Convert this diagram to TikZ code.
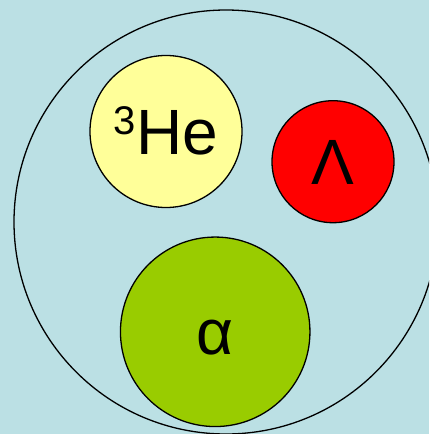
\documentclass[tikz,border=0pt]{standalone}
\usepackage{fontspec}
\setmainfont{Liberation Sans}
\definecolor{hyperSky}{HTML}{BBE0E4}
\definecolor{hyperHe}{HTML}{FFFF99}
\definecolor{hyperLam}{HTML}{FF0000}
\definecolor{hyperAlpha}{HTML}{99CC00}
\begin{document}
\begin{tikzpicture}[x=1pt,y=-1pt,line cap=round,line join=round]
\clip (0,0) rectangle (429,434);
\path[fill=hyperSky] (0,0) rectangle (429,434);
\tikzset{cluster/.style={circle,draw=black,line width=1.3pt,inner sep=0pt},
  part/.style={cluster,text=black,font=\fontsize{64}{64}\selectfont,text height=46pt,text depth=0pt}}
\node[cluster,minimum size=424pt] (nucleus) at (226,222) {};
\node[part,fill=hyperHe,minimum size=152pt] (helium) at (166,131.5) {\raisebox{20pt}{\fontsize{40}{40}\selectfont 3}He};
\node[part,fill=hyperLam,minimum size=122pt] (lambda) at (333,161.7) {Λ};
\node[part,fill=hyperAlpha,minimum size=189.5pt] (alpha) at (215.2,331.8) {α};
\end{tikzpicture}
\end{document}
